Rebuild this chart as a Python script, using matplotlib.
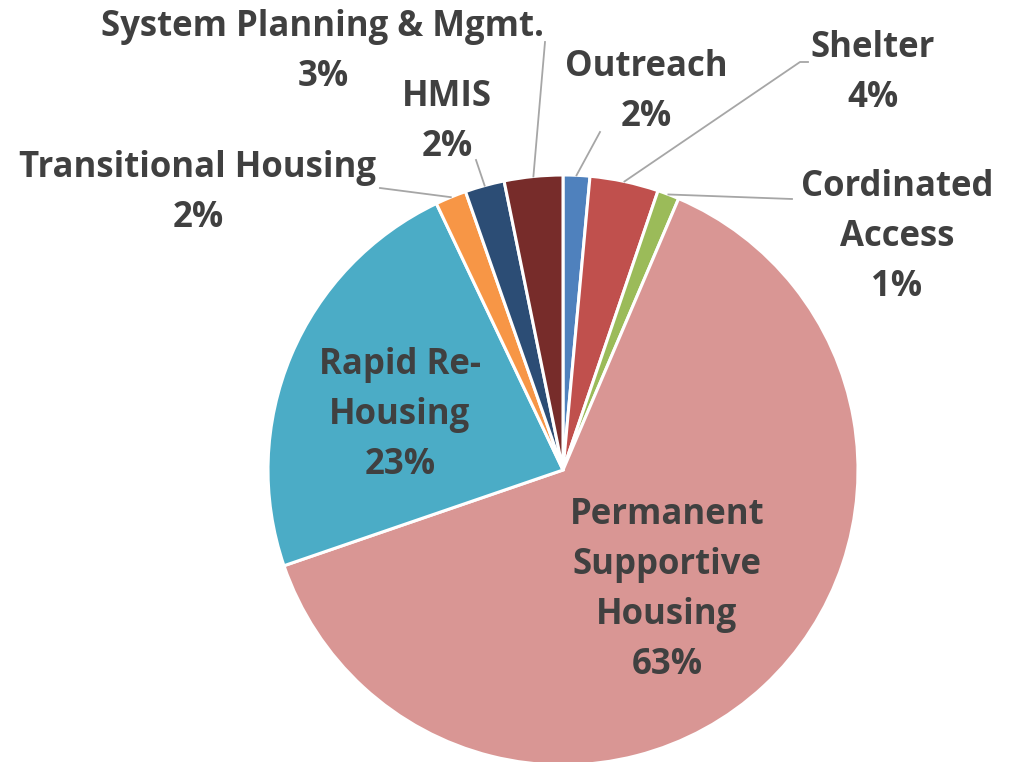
import matplotlib
matplotlib.use("Agg")
import matplotlib.pyplot as plt
import numpy as np

# data (percent of total)
categories = ["Outreach", "Shelter", "Cordinated Access", "Permanent Supportive Housing",
              "Rapid Re-Housing", "Transitional Housing", "HMIS", "System Planning & Mgmt."]
shares = [1.46, 3.76, 1.19, 63.33, 23.2, 1.7, 2.16, 3.2]
label_text = ["Outreach\n2%", "Shelter\n4%", "Cordinated\nAccess\n1%",
              "Permanent\nSupportive\nHousing\n63%", "Rapid Re-\nHousing\n23%",
              "Transitional Housing\n2%", "HMIS\n2%", "System Planning & Mgmt.\n3%"]
colors = ["#4F81BD", "#C0504D", "#9BBB59", "#D99694", "#4BACC6", "#F79646", "#2C4D75", "#772C2A"]

W, H = 1019, 762
CX, CY, R = 563, 470, 295   # pie centre / radius in pixels
LINE_H = 50                 # pixels between label lines


def px(x, y):
    return ((x - CX) / R, (CY - y) / R)


fig = plt.figure(figsize=(W / 100, H / 100), dpi=100)
ax = fig.add_axes([0, 0, 1, 1])
wedges, _ = ax.pie(shares, colors=colors, startangle=90, counterclock=False,
                   wedgeprops=dict(edgecolor="white", linewidth=2.2))
ax.set_xlim(-CX / R, (W - CX) / R)
ax.set_ylim(-(H - CY) / R, CY / R)

txt = dict(fontsize=25, fontweight="bold", color="#404040", family=["Open Sans", "DejaVu Sans"],
           ha="center", va="center")

# label centres (pixels) and leader line ends
label_pos = [(646, 92), (873, 73), (897, 237), (667, 590), (400, 415), (198, 193), (447, 122), (323, 52)]
leader_end = [(600, 132), (808, 62), (792, 199), None, None, (380, 188), (476, 160), (545, 42)]

for w, t, pos, end in zip(wedges, label_text, label_pos, leader_end):
    lines = t.split("\n")
    y0 = pos[1] - LINE_H * (len(lines) - 1) / 2
    for i, line in enumerate(lines):
        ax.text(*px(pos[0], y0 + i * LINE_H), line, **txt)
    if end is not None:
        mid = np.deg2rad((w.theta1 + w.theta2) / 2)
        sx, sy = np.cos(mid), np.sin(mid)
        ex, ey = px(*end)
        if end == (808, 62):
            ax.plot([sx, px(800, 62)[0], ex], [sy, ey, ey], color="#A6A6A6", lw=1.3)
        else:
            ax.plot([sx, ex], [sy, ey], color="#A6A6A6", lw=1.3)

fig.savefig("out.png", dpi=100, facecolor="white")
